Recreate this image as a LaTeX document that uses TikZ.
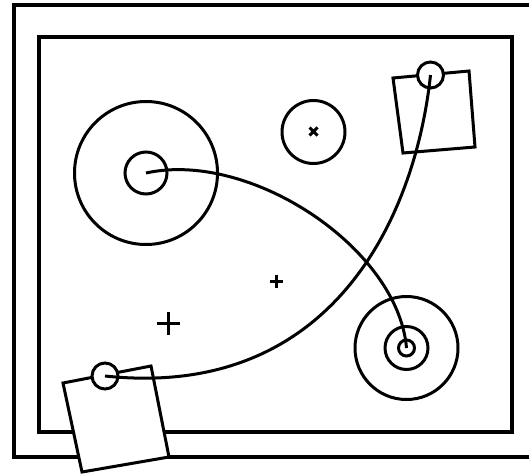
\documentclass[tikz,border=0pt]{standalone}
\begin{document}
\begin{tikzpicture}[x=1pt,y=-1pt,
  frame/.style={line width=3.6pt},
  ring/.style={circle,draw,line width=3pt,inner sep=0pt,fill=none},
  pin/.style={circle,draw,line width=3pt,inner sep=0pt,minimum size=26pt,fill=white},
  paper/.style={draw,line width=3pt,fill=white,line join=miter},
  wire/.style={line width=3pt},
  crossmark/.style={line width=3pt}]
\path[use as bounding box] (0,0) rectangle (529,474);
\clip (0,0) rectangle (529,474);
% frames
\draw[frame] (14,5) rectangle (537,457);
\draw[frame] (39,37) rectangle (512,432);
% papers
\draw[paper] (393,78) -- (469,71) -- (475,147) -- (403,153) -- cycle;
\draw[paper] (63,383) -- (151,366) -- (169,457) -- (82,472) -- cycle;
% circles
\node[ring,minimum size=143pt] (big) at (146,173) {};
\node[ring,minimum size=42pt] (bigin) at (146,173) {};
\node[ring,minimum size=63pt] (mid) at (313.5,132) {};
\node[ring,minimum size=103pt] (tgt) at (406.5,348) {};
\node[ring,minimum size=43pt] (tgtmid) at (406.5,348) {};
\node[ring,minimum size=16pt] (tgtin) at (406.5,348) {};
% pins
\node[pin] (pinA) at (430.5,75) {};
\node[pin] (pinB) at (105,376) {};
% marks
\draw[crossmark] (309.5,127.5) -- (317.5,135.5) (309.5,135.5) -- (317.5,127.5);
\draw[crossmark] (156.5,323) -- (179.5,323) (168,311.5) -- (168,334.5);
\draw[crossmark] (269.5,281) -- (282.5,281) (276,274.5) -- (276,287.5);
% wires
\draw[wire] (bigin.center) .. controls (250,150) and (398,248) .. (tgtin.center);
\draw[wire] (pinB.center) .. controls (330,400) and (415,220) .. (pinA.center);
\end{tikzpicture}
\end{document}
